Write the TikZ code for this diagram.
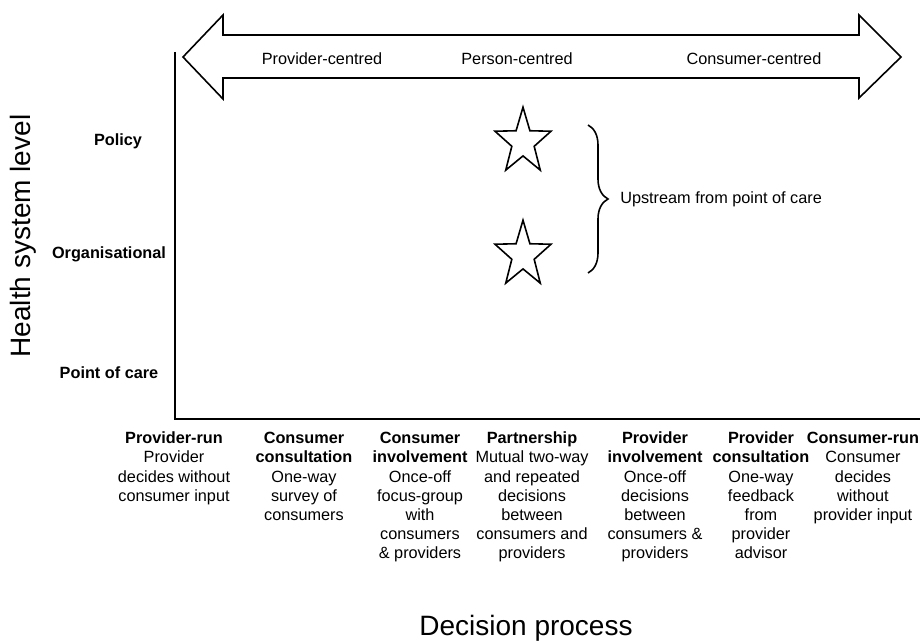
\documentclass[tikz,border=0pt]{standalone}
\usepackage{fontspec}
\setmainfont{Liberation Sans}
\usetikzlibrary{decorations.pathreplacing}
\newcommand{\topstrut}{\rule{0pt}{0.95em}}
\begin{document}
\begin{tikzpicture}[x=0.75pt,y=-0.75pt,
  lbl/.style={font=\fontsize{12.2}{14.4}\selectfont,inner sep=0pt},
  lvl/.style={font=\fontsize{12.2}{14.4}\selectfont\bfseries,inner sep=0pt},
  col/.style={font=\fontsize{12.2}{14.4}\selectfont,inner sep=0pt,align=center,anchor=north},
  big/.style={font=\fontsize{21}{25}\selectfont,inner sep=0pt},
  outline/.style={draw=black,line width=1.2pt,line join=miter},
  starshape/.style={draw=black,line width=1.2pt,line join=miter}]
\useasboundingbox (0,0) rectangle (922,642);
% double arrow
\draw[outline] (183,57) -- (223,15) -- (223,35) -- (859,35) -- (859,15) -- (901,57)
  -- (859,98) -- (859,78) -- (223,78) -- (223,99) -- cycle;
\node[lbl] (pc) at (322,59) {Provider-centred};
\node[lbl] (pe) at (517,59) {Person-centred};
\node[lbl] (cc) at (754,59) {Consumer-centred};
% axes
\coordinate (ytop) at (175,52);
\coordinate (orig) at (175,419);
\coordinate (xend) at (920,419);
\draw[line width=1.2pt] (ytop) -- (orig) -- (xend);
% axis titles
\node[big,rotate=90] (ylab) at (23,236) {Health system level};
\node[big] (xlab) at (526,628) {Decision process};
% levels
\node[lvl] (policy) at (118,141) {Policy};
\node[lvl] (org) at (109,254) {Organisational};
\node[lvl] (poc) at (109,373) {Point of care};
% stars (y axis points down, so -90 is up)
\foreach \cy/\nm in {142/s1,255/s2}{
  \draw[starshape] (523,\cy)
    +(-90:29.4 and 34.8)
    \foreach \k in {1,...,9}{
      -- +({-90+36*\k}:{ifthenelse(mod(\k,2)==1,0.4*29.4,29.4)} and {ifthenelse(mod(\k,2)==1,0.4*34.8,34.8)})
    } -- cycle;
}
% brace
\coordinate (bt) at (588,125);
\coordinate (bb) at (588,273);
\draw[line width=1.2pt,decorate,decoration={brace,amplitude=15pt}] (bt) -- (bb);
\node[lbl,anchor=west] (up) at (620,199) {Upstream from point of care};
% columns
\node[col] (c1) at (174,428) {\topstrut\textbf{Provider-run}\\Provider\\decides without\\consumer input};
\node[col] (c2) at (304,428) {\topstrut\textbf{Consumer}\\\textbf{consultation}\\One-way\\survey of\\consumers};
\node[col] (c3) at (420,428) {\topstrut\textbf{Consumer}\\\textbf{involvement}\\Once-off\\focus-group\\with\\consumers\\\& providers};
\node[col] (c4) at (532,428) {\topstrut\textbf{Partnership}\\Mutual two-way\\and repeated\\decisions\\between\\consumers and\\providers};
\node[col] (c5) at (655,428) {\topstrut\textbf{Provider}\\\textbf{involvement}\\Once-off\\decisions\\between\\consumers \&\\providers};
\node[col] (c6) at (761,428) {\topstrut\textbf{Provider}\\\textbf{consultation}\\One-way\\feedback\\from\\provider\\advisor};
\node[col] (c7) at (863,428) {\topstrut\textbf{Consumer-run}\\Consumer\\decides\\without\\provider input};
\end{tikzpicture}
\end{document}
